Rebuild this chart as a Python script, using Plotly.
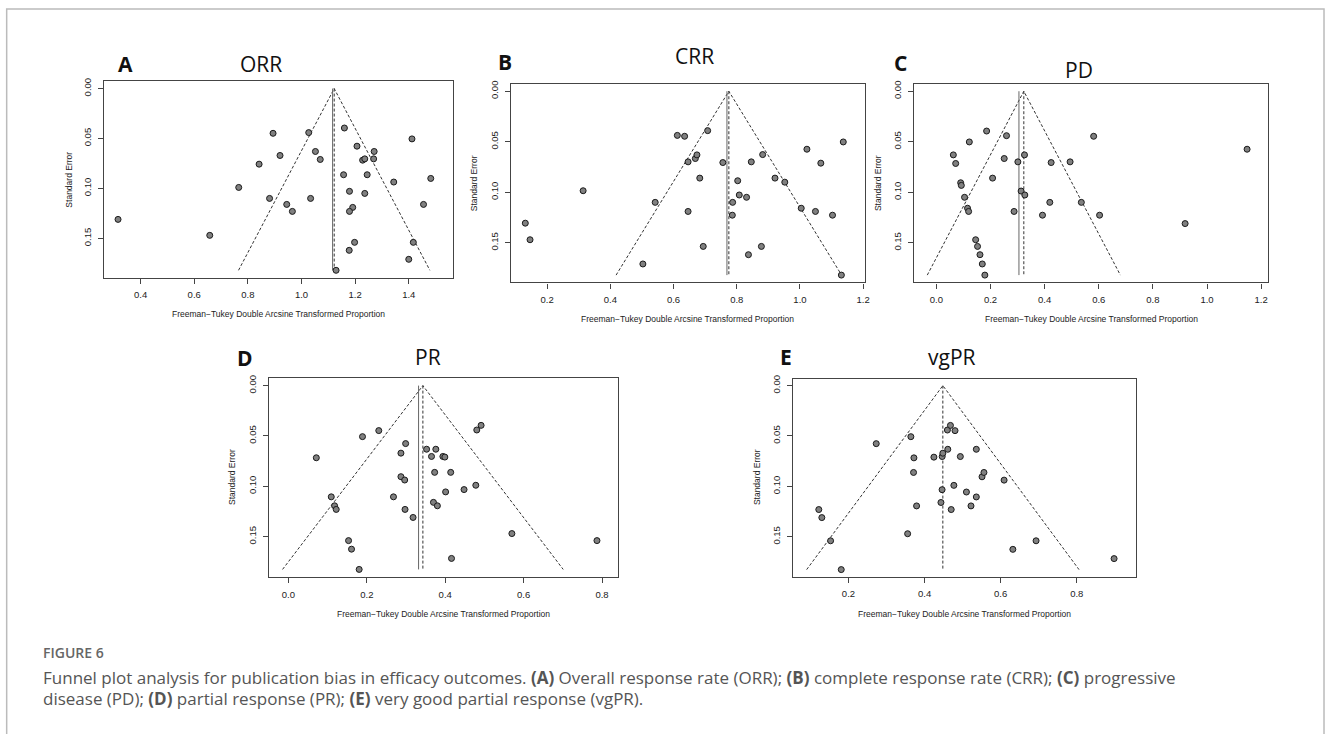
import plotly.graph_objects as go

W, H = 1330, 734

# ---------------- data ----------------
# A  ORR
orr_x = [0.316, 0.658, 0.766, 0.842, 0.894, 0.920, 0.881, 0.945, 0.966, 1.027, 1.052, 1.070,
         1.034, 1.160, 1.207, 1.228, 1.236, 1.271, 1.269, 1.157, 1.245, 1.179, 1.236, 1.191,
         1.179, 1.344, 1.412, 1.482, 1.455, 1.198, 1.178, 1.417, 1.400, 1.129]
orr_se = [0.131, 0.147, 0.099, 0.0757, 0.0448, 0.067, 0.110, 0.116, 0.123, 0.0441, 0.063, 0.071,
          0.110, 0.0395, 0.0577, 0.0717, 0.0704, 0.063, 0.0704, 0.0863, 0.0863, 0.1029, 0.105, 0.119,
          0.123, 0.0936, 0.0504, 0.090, 0.116, 0.154, 0.162, 0.154, 0.171, 0.182]
# B  CRR
crr_x = [0.131, 0.146, 0.314, 0.503, 0.542, 0.612, 0.635, 0.708, 0.646, 0.669, 0.674, 0.683,
         0.646, 0.694, 0.756, 0.803, 0.808, 0.831, 0.787, 0.786, 0.846, 0.882, 0.921, 0.952,
         0.837, 0.878, 1.004, 1.022, 1.066, 1.049, 1.103, 1.137, 1.131]
crr_se = [0.1306, 0.147, 0.0985, 0.171, 0.110, 0.0437, 0.0446, 0.039, 0.0699, 0.0666, 0.063, 0.086,
          0.119, 0.1536, 0.0706, 0.0886, 0.1027, 0.105, 0.110, 0.1227, 0.0699, 0.0627, 0.086, 0.090,
          0.1618, 0.1536, 0.1158, 0.0574, 0.0712, 0.119, 0.1227, 0.0502, 0.182]
# C  PD
pd_x = [0.0626, 0.0712, 0.0897, 0.0921, 0.104, 0.115, 0.119, 0.1216, 0.1855, 0.2076, 0.2506, 0.259,
        0.145, 0.152, 0.161, 0.1695, 0.179, 0.287, 0.301, 0.313, 0.3267, 0.3255, 0.392, 0.419,
        0.424, 0.494, 0.5355, 0.581, 0.603, 0.919, 1.148]
pd_se = [0.063, 0.0715, 0.0906, 0.0932, 0.105, 0.1158, 0.119, 0.0502, 0.0394, 0.086, 0.0666, 0.044,
         0.147, 0.1536, 0.1618, 0.171, 0.182, 0.119, 0.0699, 0.0988, 0.1027, 0.063, 0.1227, 0.110,
         0.0706, 0.0699, 0.110, 0.0446, 0.1227, 0.131, 0.0574]
# D  PR
pr_x = [0.0712, 0.1093, 0.1178, 0.122, 0.1534, 0.161, 0.1805, 0.189, 0.2305, 0.268, 0.287, 0.2966,
        0.287, 0.299, 0.2975, 0.318, 0.3525, 0.376, 0.365, 0.394, 0.399, 0.373, 0.414, 0.370,
        0.380, 0.401, 0.448, 0.478, 0.4805, 0.4915, 0.416, 0.570, 0.787]
pr_se = [0.0717, 0.1105, 0.1194, 0.123, 0.154, 0.1625, 0.1826, 0.0507, 0.0447, 0.1105, 0.0905, 0.0938,
         0.0671, 0.0576, 0.123, 0.131, 0.0632, 0.0632, 0.0704, 0.0704, 0.071, 0.0862, 0.0862, 0.116,
         0.1194, 0.1056, 0.1033, 0.099, 0.0441, 0.0395, 0.1717, 0.147, 0.154]
# E  vgPR
vgpr_x = [0.122, 0.130, 0.153, 0.181, 0.273, 0.364, 0.372, 0.371, 0.379, 0.3555, 0.4245, 0.4463,
          0.448, 0.446, 0.443, 0.460, 0.468, 0.480, 0.461, 0.470, 0.477, 0.494, 0.510, 0.522,
          0.536, 0.536, 0.551, 0.556, 0.609, 0.632, 0.693, 0.898]
vgpr_se = [0.123, 0.131, 0.154, 0.1826, 0.0576, 0.0507, 0.0717, 0.0862, 0.1194, 0.147, 0.071, 0.0704,
           0.0671, 0.1033, 0.116, 0.0441, 0.0395, 0.0447, 0.0632, 0.123, 0.099, 0.0704, 0.1056, 0.1194,
           0.1105, 0.0632, 0.0905, 0.0862, 0.0938, 0.1625, 0.154, 0.1717]

panel_letters = ["A", "B", "C", "D", "E"]
panel_titles = ["ORR", "CRR", "PD", "PR", "vgPR"]
common_est = [1.116, 0.769, 0.305, 0.332, None]
random_est = [1.122, 0.775, 0.323, 0.343, 0.448]
y_ticks = [0.00, 0.05, 0.10, 0.15]

xs = [orr_x, crr_x, pd_x, pr_x, vgpr_x]
ses = [orr_se, crr_se, pd_se, pr_se, vgpr_se]

# ---------------- layout geometry (pixels) ----------------
boxes = [  # left, right, top, bottom
    (104, 454.3, 77.7, 275.3),
    (512.3, 868, 80.3, 280),
    (916.7, 1272.3, 80.3, 280),
    (270, 620, 376, 576.5),
    (795.3, 1139, 376.7, 576),
]
xranges = [(0.2625, 1.5647), (0.085, 1.207), (-0.083, 1.227), (-0.049, 0.841), (0.054, 0.9545)]
yranges = [(0.1895, -0.0073), (0.1893, -0.0073), (0.1893, -0.0073), (0.1905, -0.0076), (0.1898, -0.0069)]
letter_pos = [(126, 60.5), (506.5, 58.5), (903.5, 59.5), (245.5, 355.5), (788.5, 355)]
title_pos = [(261.6, 60.5), (697, 52), (1082, 66.5), (429.5, 355), (955, 355)]
xtitle_pos = [(279, 311.7), (690, 316.7), (1094.3, 316.7), (445, 613.3), (967, 613.3)]
ytitle_pos = [(68.3, 176.5), (475.7, 180), (880.7, 180), (233.3, 476), (760, 476)]


def px(x):
    return x / W


def py(y):
    return 1 - y / H


fig = go.Figure()
AX_FONT = dict(family="Liberation Sans, Arial, sans-serif", size=9.5, color="#222")
layout = dict(
    width=W, height=H, autosize=False,
    margin=dict(l=0, r=0, t=0, b=0),
    paper_bgcolor="white", plot_bgcolor="white",
    showlegend=False,
)

annotations = []
for i in range(5):
    n = "" if i == 0 else str(i + 1)
    xa, ya = "x" + n, "y" + n
    l, r, t, b = boxes[i]
    x, se = xs[i], ses[i]
    semax = max(se)
    est = random_est[i]
    # funnel triangle
    fig.add_trace(go.Scatter(
        x=[est - 1.96 * semax, est, est + 1.96 * semax], y=[semax, 0, semax],
        mode="lines", line=dict(color="#333", width=1, dash="3px,2px"),
        xaxis=xa, yaxis=ya, hoverinfo="skip"))
    # common effect (solid)
    if common_est[i] is not None:
        fig.add_trace(go.Scatter(
            x=[common_est[i], common_est[i]], y=[0, semax], mode="lines",
            line=dict(color="#666", width=1), xaxis=xa, yaxis=ya, hoverinfo="skip"))
    # random effect (dashed)
    fig.add_trace(go.Scatter(
        x=[est, est], y=[0, semax], mode="lines",
        line=dict(color="#333", width=1, dash="3px,2px"), xaxis=xa, yaxis=ya, hoverinfo="skip"))
    # studies
    fig.add_trace(go.Scatter(
        x=x, y=se, mode="markers",
        marker=dict(size=6, color="#808080", line=dict(color="#1a1a1a", width=1)),
        xaxis=xa, yaxis=ya))

    common_axis = dict(showline=True, linecolor="#444", linewidth=1.2, mirror=True,
                       ticks="outside", ticklen=5, tickwidth=1, tickcolor="#444",
                       showgrid=False, zeroline=False, tickfont=AX_FONT)
    layout["xaxis" + n] = dict(common_axis, domain=[px(l), px(r)], range=list(xranges[i]),
                               anchor=ya, dtick=0.2, tick0=0, tickformat=".1f",
                               ticklabelstandoff=3)
    layout["yaxis" + n] = dict(common_axis, domain=[py(b), py(t)], range=list(yranges[i]),
                               anchor=xa, tickvals=y_ticks,
                               ticktext=["%.2f" % v for v in y_ticks],
                               tickangle=-90, ticklabelstandoff=3)

    lx, ly = letter_pos[i]
    annotations.append(dict(text="<b>%s</b>" % panel_letters[i], x=px(lx), y=py(ly),
                            xref="paper", yref="paper", showarrow=False,
                            xanchor="center", yanchor="middle",
                            font=dict(family="Open Sans, sans-serif", size=21, color="#111")))
    tx, ty = title_pos[i]
    annotations.append(dict(text=panel_titles[i], x=px(tx), y=py(ty),
                            xref="paper", yref="paper", showarrow=False,
                            xanchor="center", yanchor="middle",
                            font=dict(family="Open Sans, sans-serif", size=21, color="#111")))
    xtx, xty = xtitle_pos[i]
    annotations.append(dict(text="Freeman\u2212Tukey Double Arcsine Transformed Proportion",
                            x=px(xtx), y=py(xty), xref="paper", yref="paper", showarrow=False,
                            xanchor="center", yanchor="middle",
                            font=dict(family="Liberation Sans, Arial, sans-serif", size=8.5, color="#222")))
    ytx, yty = ytitle_pos[i]
    annotations.append(dict(text="Standard Error", x=px(ytx), y=py(yty), textangle=-90,
                            xref="paper", yref="paper", showarrow=False,
                            xanchor="center", yanchor="middle",
                            font=dict(family="Liberation Sans, Arial, sans-serif", size=8.5, color="#222")))

# caption
annotations.append(dict(text="FIGURE 6", x=px(41), y=py(651.7), xref="paper", yref="paper",
                        showarrow=False, xanchor="left", yanchor="middle",
                        font=dict(family="Open Sans, sans-serif", size=14, weight=600, color="#666")))
annotations.append(dict(
    text="Funnel plot analysis for publication bias in efficacy outcomes. <b>(A)</b> Overall response rate (ORR); "
         "<b>(B)</b> complete response rate (CRR); <b>(C)</b> progressive",
    x=px(41), y=py(676.7), xref="paper", yref="paper", showarrow=False,
    xanchor="left", yanchor="middle", font=dict(family="Open Sans, sans-serif", size=17, color="#555")))
annotations.append(dict(
    text="disease (PD); <b>(D)</b> partial response (PR); <b>(E)</b> very good partial response (vgPR).",
    x=px(41), y=py(698.5), xref="paper", yref="paper", showarrow=False,
    xanchor="left", yanchor="middle", font=dict(family="Open Sans, sans-serif", size=17, color="#555")))

layout["annotations"] = annotations
layout["shapes"] = [dict(type="rect", xref="paper", yref="paper",
                         x0=px(6.7), x1=px(1328), y0=py(745), y1=py(5),
                         line=dict(color="#bbb", width=1.5), fillcolor="rgba(0,0,0,0)")]

fig.update_layout(**layout)
fig.write_html("out.html", config={"displayModeBar": False},
               post_script="document.body.style.margin='0';document.body.style.overflow='hidden';")
